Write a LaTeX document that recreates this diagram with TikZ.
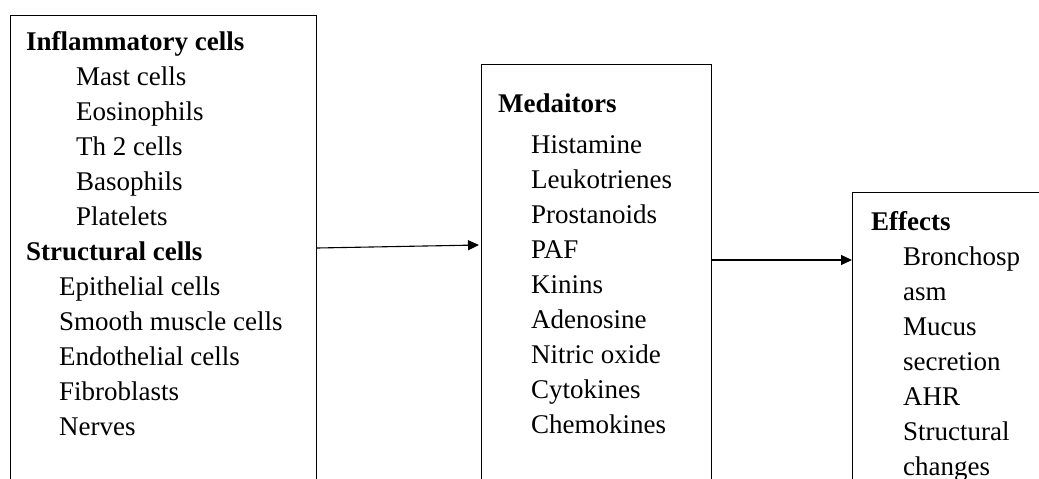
\documentclass[tikz,border=0pt]{standalone}
\usepackage{fontspec}
\setmainfont{Liberation Serif}
\usetikzlibrary{arrows.meta}

\tikzset{
  box/.style={draw, line width=1.2pt, inner sep=0pt, anchor=north west, minimum height=520pt},
  item/.style={font=\fontsize{27}{35}\selectfont, inner sep=0pt, anchor=base west},
  head/.style={item, font=\fontsize{27}{35}\selectfont\bfseries},
  flow/.style={line width=1.1pt, -{Triangle[length=11pt,width=10pt]}}
}

\begin{document}
\begin{tikzpicture}[x=1pt, y=-1pt]
    \useasboundingbox (0,0) rectangle (1039,479);
    \clip (0,0) rectangle (1039,479);

    % boxes, open at the bottom
    \node[box, minimum width=306pt] (cells) at (10,15) {};
    \node[box, minimum width=230pt] (med) at (481,64) {};
    \node[box, minimum width=300pt] (eff) at (852,192) {};

    % cells
    \node[head] (infl) at (26,50) {Inflammatory cells};
    \foreach \txt [count=\i] in {Mast cells, Eosinophils, Th 2 cells, Basophils, Platelets}
      \node[item] (infl\i) at (76,50+35*\i) {\txt};
    \node[head] (struct) at (26,260) {Structural cells};
    \foreach \txt [count=\i] in {Epithelial cells, Smooth muscle cells, Endothelial cells, Fibroblasts, Nerves}
      \node[item] (struct\i) at (59,260+35*\i) {\txt};

    % mediators
    \node[head] (medh) at (498,112) {Medaitors};
    \foreach \txt [count=\i] in {Histamine, Leukotrienes, Prostanoids, PAF, Kinins, Adenosine, Nitric oxide, Cytokines, Chemokines}
      \node[item] (med\i) at (531,118+35*\i) {\txt};

    % effects
    \node[head] (effh) at (871,230) {Effects};
    \foreach \txt [count=\i] in {Bronchosp, asm, Mucus, secretion, AHR, Structural, changes}
      \node[item] (eff\i) at (903,230+35*\i) {\txt};

    \draw[flow] ([yshift=-233pt]cells.north east) -- ([yshift=-181pt,xshift=-2pt]med.north west);
    \draw[flow] ([yshift=-196pt]med.north east) -- ([yshift=-68pt]eff.north west);
\end{tikzpicture}
\end{document}
